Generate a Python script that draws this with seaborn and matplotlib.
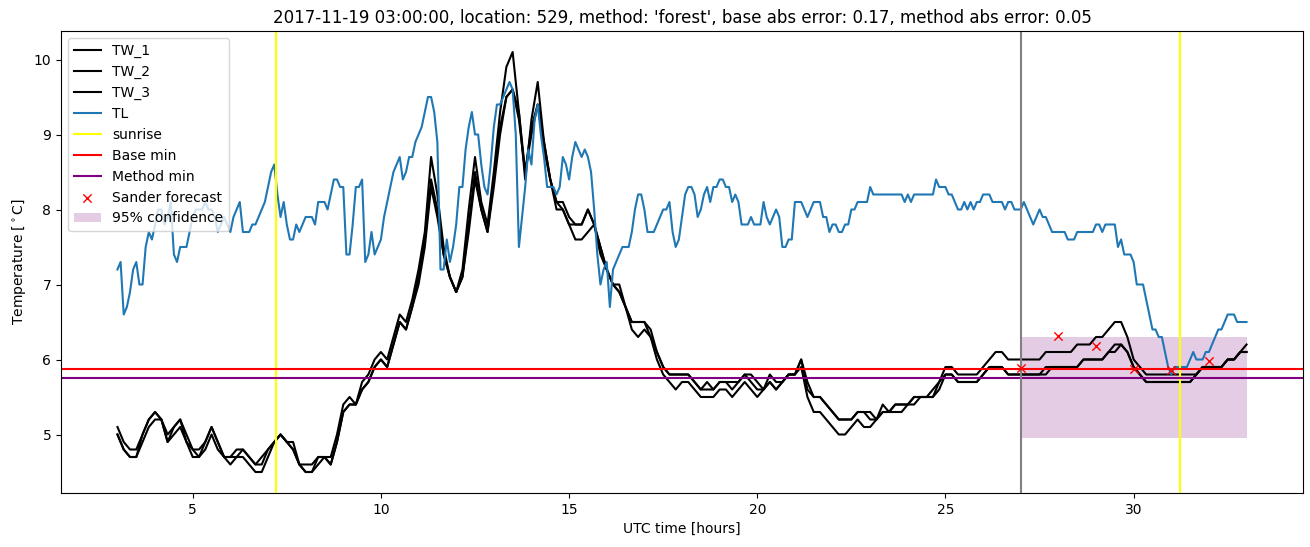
import numpy as np
import matplotlib
matplotlib.use("Agg")
import matplotlib.pyplot as plt
import seaborn as sns

# ---------------- data ----------------
# TL: 5-minute values from 03:00 to 33:00 (one row per hour)
TL = [
    7.2, 7.3, 6.6, 6.7, 6.9, 7.2, 7.3, 7.0, 7.0, 7.5, 7.7, 7.6,
    7.8, 8.0, 8.0, 7.8, 7.9, 8.1, 7.4, 7.3, 7.5, 7.5, 7.5, 7.7,
    7.9, 8.0, 8.0, 8.0, 8.1, 8.0, 8.0, 7.9, 7.7, 7.8, 7.9, 7.8,
    7.7, 7.9, 8.0, 8.1, 7.7, 7.7, 7.7, 7.8, 7.8, 7.9, 8.0, 8.1,
    8.3, 8.5, 8.6, 8.2, 7.9, 8.1, 7.8, 7.6, 7.6, 7.8, 7.7, 7.8,
    7.9, 7.9, 7.9, 7.8, 8.1, 8.1, 8.1, 8.0, 8.2, 8.4, 8.4, 8.3,
    8.3, 7.4, 7.4, 7.8, 8.3, 8.3, 8.4, 7.3, 7.4, 7.7, 7.4, 7.5,
    7.6, 7.9, 8.1, 8.3, 8.5, 8.6, 8.7, 8.4, 8.5, 8.7, 8.7, 8.9,
    9.0, 9.1, 9.3, 9.5, 9.5, 9.3, 8.9, 7.2, 7.2, 7.6, 7.3, 7.5,
    7.8, 8.3, 8.3, 8.8, 9.1, 9.3, 9.0, 9.0, 8.6, 8.3, 8.2, 8.6,
    9.1, 9.4, 9.4, 9.5, 9.6, 9.7, 9.6, 9.0, 7.5, 7.9, 8.3, 8.8,
    8.6, 9.2, 9.4, 9.0, 8.7, 8.3, 8.3, 8.3, 8.2, 8.3, 8.7, 8.6,
    8.4, 8.7, 8.9, 8.8, 8.7, 8.8, 8.7, 8.5, 8.0, 7.4, 7.0, 7.2,
    7.3, 6.7, 7.2, 7.3, 7.4, 7.5, 7.5, 7.5, 7.7, 8.0, 8.2, 8.2,
    8.0, 7.7, 7.7, 7.7, 7.8, 7.9, 8.0, 8.0, 8.1, 7.7, 7.5, 7.6,
    7.9, 8.2, 8.3, 8.3, 8.2, 7.9, 8.0, 8.2, 8.3, 8.1, 8.3, 8.3,
    8.4, 8.4, 8.3, 8.3, 8.1, 8.2, 8.1, 7.8, 7.8, 7.8, 7.9, 7.8,
    7.8, 7.8, 8.1, 7.9, 7.8, 7.9, 8.0, 7.9, 7.5, 7.5, 7.6, 7.6,
    8.1, 8.1, 8.1, 8.0, 7.9, 8.0, 8.1, 8.1, 8.1, 7.9, 7.9, 7.7,
    7.8, 7.8, 7.7, 7.7, 7.8, 7.8, 8.0, 8.0, 8.1, 8.1, 8.1, 8.1,
    8.3, 8.2, 8.2, 8.2, 8.2, 8.2, 8.2, 8.2, 8.2, 8.2, 8.2, 8.1,
    8.2, 8.1, 8.2, 8.2, 8.2, 8.2, 8.2, 8.2, 8.2, 8.4, 8.3, 8.3,
    8.3, 8.2, 8.2, 8.1, 8.0, 8.0, 8.1, 8.0, 8.1, 8.0, 8.1, 8.1,
    8.2, 8.2, 8.2, 8.1, 8.1, 8.1, 8.1, 8.0, 8.1, 8.1, 8.0, 8.0,
    8.0, 8.1, 8.0, 7.9, 7.8, 7.9, 8.0, 7.9, 7.9, 7.8, 7.7, 7.7,
    7.7, 7.7, 7.7, 7.6, 7.6, 7.6, 7.7, 7.7, 7.7, 7.7, 7.7, 7.7,
    7.8, 7.8, 7.7, 7.8, 7.8, 7.8, 7.8, 7.5, 7.6, 7.4, 7.4, 7.4,
    7.3, 7.0, 7.0, 7.0, 6.8, 6.6, 6.4, 6.4, 6.3, 6.3, 6.1, 5.9,
    5.8, 5.9, 5.9, 5.9, 5.9, 5.9, 6.0, 6.1, 6.0, 6.0, 6.0, 6.1,
    6.1, 6.2, 6.3, 6.4, 6.4, 6.5, 6.6, 6.6, 6.6, 6.5, 6.5, 6.5,
    6.5,
]

# TW_1..TW_3: 10-minute values from 03:00 to 33:00 (one row per hour)
TW_1 = [
    5.1, 4.9, 4.8, 4.8, 5.0, 5.2,
    5.3, 5.2, 5.0, 5.1, 5.2, 5.0,
    4.8, 4.8, 4.9, 5.1, 4.9, 4.7,
    4.7, 4.8, 4.8, 4.7, 4.6, 4.7,
    4.8, 4.9, 5.0, 4.9, 4.9, 4.6,
    4.6, 4.6, 4.7, 4.7, 4.7, 5.0,
    5.4, 5.5, 5.4, 5.7, 5.8, 6.0,
    6.1, 6.0, 6.3, 6.6, 6.5, 6.8,
    7.2, 7.7, 8.7, 8.2, 7.5, 7.1,
    6.9, 7.2, 8.0, 8.7, 8.1, 7.8,
    8.5, 9.3, 9.9, 10.1, 9.3, 8.4,
    9.2, 9.7, 8.9, 8.4, 8.1, 8.1,
    7.9, 7.8, 7.8, 8.0, 7.8, 7.5,
    7.2, 7.0, 7.0, 6.7, 6.5, 6.5,
    6.5, 6.4, 6.1, 5.9, 5.8, 5.8,
    5.8, 5.8, 5.7, 5.6, 5.7, 5.6,
    5.7, 5.7, 5.7, 5.7, 5.8, 5.8,
    5.7, 5.6, 5.8, 5.7, 5.7, 5.8,
    5.8, 6.0, 5.7, 5.5, 5.5, 5.4,
    5.3, 5.2, 5.2, 5.2, 5.3, 5.3,
    5.3, 5.2, 5.4, 5.3, 5.4, 5.4,
    5.4, 5.5, 5.5, 5.5, 5.6, 5.7,
    5.9, 5.9, 5.8, 5.8, 5.8, 5.8,
    5.9, 6.0, 6.1, 6.1, 6.0, 6.0,
    6.0, 6.0, 6.0, 6.0, 6.1, 6.1,
    6.1, 6.1, 6.1, 6.2, 6.2, 6.2,
    6.3, 6.3, 6.4, 6.5, 6.5, 6.3,
    6.0, 5.9, 5.8, 5.8, 5.8, 5.8,
    5.8, 5.8, 5.8, 5.8, 5.8, 5.9,
    5.9, 5.9, 5.9, 6.0, 6.0, 6.1,
    6.2,
]

TW_2 = [
    5.0, 4.8, 4.7, 4.7, 5.0, 5.2,
    5.3, 5.2, 4.9, 5.1, 5.2, 4.9,
    4.8, 4.7, 4.9, 5.1, 4.9, 4.7,
    4.7, 4.7, 4.8, 4.7, 4.6, 4.6,
    4.8, 4.9, 5.0, 4.9, 4.8, 4.6,
    4.5, 4.5, 4.7, 4.7, 4.6, 4.9,
    5.3, 5.4, 5.4, 5.6, 5.7, 5.9,
    6.0, 5.9, 6.2, 6.5, 6.4, 6.7,
    7.1, 7.6, 8.4, 8.0, 7.4, 7.1,
    6.9, 7.1, 7.8, 8.5, 8.0, 7.7,
    8.4, 9.1, 9.5, 9.6, 9.3, 8.5,
    9.1, 9.4, 8.9, 8.4, 8.1, 8.0,
    7.8, 7.8, 7.8, 8.0, 7.8, 7.5,
    7.2, 7.0, 6.9, 6.7, 6.5, 6.5,
    6.5, 6.3, 6.1, 5.9, 5.8, 5.8,
    5.8, 5.8, 5.7, 5.6, 5.6, 5.6,
    5.7, 5.7, 5.6, 5.7, 5.8, 5.7,
    5.6, 5.6, 5.7, 5.6, 5.7, 5.8,
    5.8, 6.0, 5.6, 5.5, 5.5, 5.4,
    5.3, 5.2, 5.2, 5.2, 5.3, 5.3,
    5.2, 5.2, 5.3, 5.3, 5.4, 5.4,
    5.4, 5.5, 5.5, 5.5, 5.5, 5.7,
    5.8, 5.8, 5.7, 5.7, 5.7, 5.7,
    5.8, 5.9, 5.9, 5.9, 5.8, 5.8,
    5.8, 5.8, 5.8, 5.8, 5.9, 5.9,
    5.9, 5.9, 5.9, 5.9, 6.0, 6.0,
    6.0, 6.0, 6.1, 6.2, 6.2, 6.1,
    5.9, 5.8, 5.7, 5.7, 5.7, 5.7,
    5.7, 5.7, 5.7, 5.7, 5.8, 5.9,
    5.9, 5.9, 5.9, 6.0, 6.0, 6.1,
    6.1,
]

TW_3 = [
    5.0, 4.8, 4.7, 4.7, 4.9, 5.1,
    5.2, 5.2, 4.9, 5.0, 5.1, 4.9,
    4.7, 4.7, 4.8, 5.0, 4.8, 4.7,
    4.6, 4.7, 4.7, 4.6, 4.5, 4.5,
    4.7, 4.9, 5.0, 4.9, 4.8, 4.6,
    4.5, 4.5, 4.6, 4.7, 4.6, 4.9,
    5.3, 5.4, 5.4, 5.6, 5.7, 5.9,
    6.0, 5.9, 6.2, 6.5, 6.4, 6.7,
    7.0, 7.5, 8.3, 7.9, 7.4, 7.1,
    6.9, 7.1, 7.7, 8.4, 8.0, 7.7,
    8.3, 9.0, 9.5, 9.6, 9.2, 8.5,
    9.0, 9.4, 8.8, 8.4, 8.0, 8.0,
    7.8, 7.6, 7.6, 7.7, 7.8, 7.4,
    7.2, 7.0, 6.9, 6.7, 6.4, 6.3,
    6.4, 6.3, 6.0, 5.8, 5.7, 5.6,
    5.7, 5.7, 5.6, 5.5, 5.5, 5.5,
    5.6, 5.6, 5.5, 5.6, 5.7, 5.6,
    5.5, 5.6, 5.7, 5.6, 5.7, 5.8,
    5.8, 5.9, 5.5, 5.3, 5.3, 5.2,
    5.1, 5.0, 5.0, 5.1, 5.2, 5.1,
    5.1, 5.2, 5.3, 5.3, 5.3, 5.3,
    5.4, 5.4, 5.5, 5.5, 5.5, 5.6,
    5.8, 5.8, 5.7, 5.7, 5.7, 5.7,
    5.8, 5.9, 5.9, 5.9, 5.8, 5.8,
    5.8, 5.8, 5.8, 5.8, 5.8, 5.9,
    5.9, 5.9, 5.9, 5.9, 6.0, 6.0,
    6.0, 6.0, 6.1, 6.1, 6.2, 6.1,
    5.9, 5.8, 5.7, 5.7, 5.7, 5.7,
    5.7, 5.7, 5.7, 5.7, 5.8, 5.9,
    5.9, 5.9, 5.9, 6.0, 6.0, 6.1,
    6.1,
]

start_hour = 3.0
sunrise_hours = [7.21, 31.22]
forecast_start = 27.0
base_min = 5.87
method_min = 5.75
sander_hours = [27, 28, 29, 30, 31, 32]
sander_values = [5.89, 6.32, 6.18, 5.88, 5.86, 5.98]
conf_hours = [27.0, 33.0]
conf_low = 4.96
conf_high = 6.30

title = ("2017-11-19 03:00:00, location: 529, method: 'forest', "
         "base abs error: 0.17, method abs error: 0.05")

# time axes (sample index -> hours)
t_tl = start_hour + np.arange(len(TL)) / 12.0
t_tw = start_hour + np.arange(len(TW_1)) / 6.0

# ---------------- plot ----------------
fig = plt.figure(figsize=(13.1, 5.47), dpi=100)
ax = fig.add_axes([61 / 1310, 54 / 547, (1303 - 61) / 1310, (494 - 32) / 547])

for name, vals in [("TW_1", TW_1), ("TW_2", TW_2), ("TW_3", TW_3)]:
    sns.lineplot(x=t_tw, y=vals, color="black", label=name, ax=ax,
                 estimator=None, linewidth=1.5)
sns.lineplot(x=t_tl, y=TL, color="#1f77b4", label="TL", ax=ax,
             estimator=None, linewidth=1.5)

ax.axvline(sunrise_hours[0], color="yellow", label="sunrise", linewidth=1.5)
ax.axvline(sunrise_hours[1], color="yellow", linewidth=1.5)
ax.axhline(base_min, color="red", label="Base min", linewidth=1.5)
ax.axhline(method_min, color="purple", label="Method min", linewidth=1.5)
ax.axvline(forecast_start, color="grey", linewidth=1.5)

sns.scatterplot(x=sander_hours, y=sander_values, marker="x", color="red",
                s=36, linewidth=1.0, label="Sander forecast", ax=ax, zorder=3)
ax.fill_between(conf_hours, [conf_low, conf_low], [conf_high, conf_high],
                color="purple", alpha=0.2, linewidth=0, label="95% confidence",
                zorder=1)

ax.set_xlim(1.5, 34.5)
ax.set_ylim(4.22, 10.38)
ax.set_xticks([5, 10, 15, 20, 25, 30])
ax.set_yticks([5, 6, 7, 8, 9, 10])
ax.set_xlabel("UTC time [hours]")
ax.set_ylabel(r"Temperature [$^\circ$C]")
ax.set_title(title, fontsize=12)
for s in ax.spines.values():
    s.set_visible(True)
    s.set_color("black")
ax.legend(loc="upper left")

fig.savefig("out.png", dpi=100)
